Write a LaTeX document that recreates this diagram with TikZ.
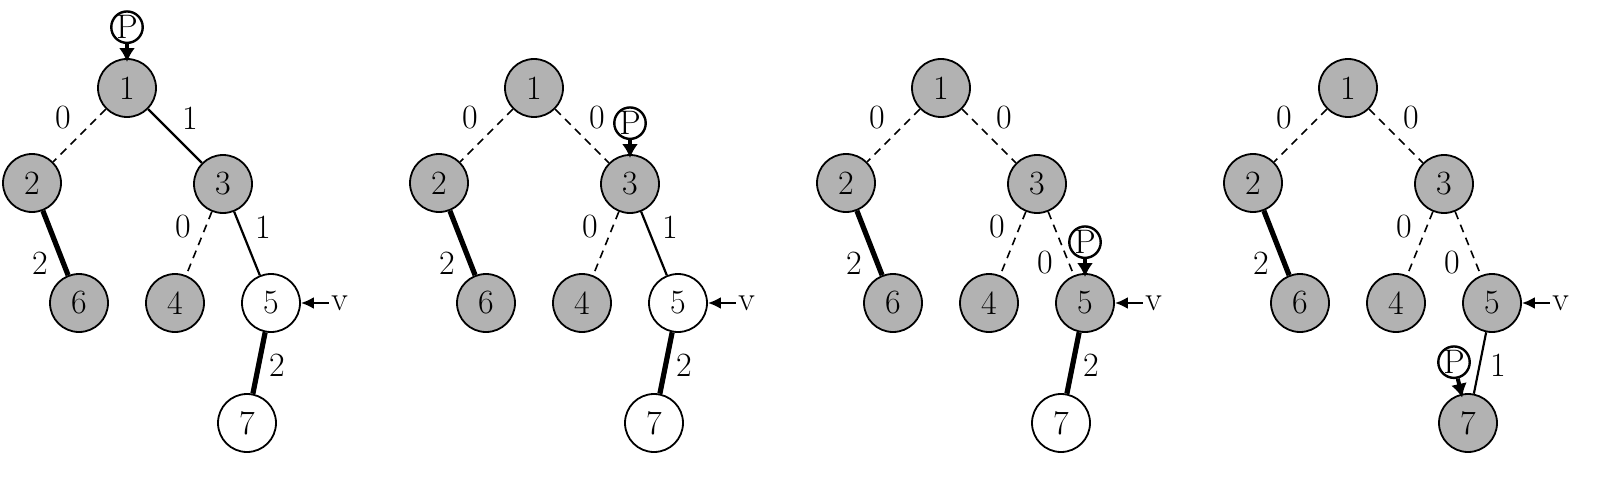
\documentclass[tikz,border=0pt]{standalone}
\usepackage{fontspec}
\usetikzlibrary{arrows.meta,positioning}
\begin{document}
\begin{tikzpicture}[x=0.5pt,y=-0.5pt,font=\fontsize{17}{20}\selectfont,
    vtx/.style={circle,draw,line width=0.9pt,minimum size=29pt,inner sep=0pt,fill=black!30},
    w0/.style={line width=0.8pt,dash pattern=on 4pt off 3pt},
    w1/.style={line width=1.1pt},
    w2/.style={line width=2.6pt},
    ptr/.style={circle,draw,line width=1.2pt,minimum size=13.5pt,inner sep=0pt},
    ptrarr/.style={-{Latex[length=7pt,width=8pt]}, line width=2pt, shorten >=-2pt}]
    \useasboundingbox (0,0) rectangle (1600,481);
    % one tree per step: weights of 1-3, 3-5, fills of 5 and 7, weight of 5-7, pointer target
    \foreach \k/\wa/\wb/\fa/\fb/\wc/\tg/\px/\lx/\ly in {0/1/1/white/white/2/n1/0pt/16/-16.5,
        1/0/1/white/white/2/n3/0pt/16/-16.5, 2/0/0/black!30/white/2/n5/0pt/-16/19.5,
        3/0/0/black!30/black!30/1/n7/-7pt/-16/19.5} {
      \begin{scope}[shift={(\k*407,0)}]
        \node[vtx] (n1) at (127,88) {1};
        \node[vtx] (n2) at (32,183) {2};
        \node[vtx] (n3) at (223,184) {3};
        \node[vtx] (n6) at (79,303) {6};
        \node[vtx] (n4) at (175,303) {4};
        \node[vtx, fill=\fa] (n5) at (271,303) {5};
        \node[vtx, fill=\fb] (n7) at (247,423) {7};
        \draw[w0] (n1) -- (n2) node[midway, shift={(-16.5,-17.5)}] {0};
        \draw[w\wa] (n1) -- (n3) node[midway, shift={(15,-18)}] {\wa};
        \draw[w2] (n2) -- (n6) node[midway, shift={(-15.5,20)}] {2};
        \draw[w0] (n3) -- (n4) node[midway, shift={(-16,-16.5)}] {0};
        \draw[w\wb] (n3) -- (n5) node[midway, shift={(\lx,\ly)}] {\wb};
        \draw[w\wc] (n5) -- (n7) node[midway, shift={(18,2)}] {\wc};
        \node[right=14pt of n5, inner sep=1pt] (v) {v};
        \draw[-{Latex[length=6.5pt,width=6pt]}, line width=1.2pt] (v) -- (n5);
        \node[ptr, above=7pt of \tg, xshift=\px] (p) {P};
        \draw[ptrarr] (p) -- (\tg);
      \end{scope}
    }
\end{tikzpicture}
\end{document}
